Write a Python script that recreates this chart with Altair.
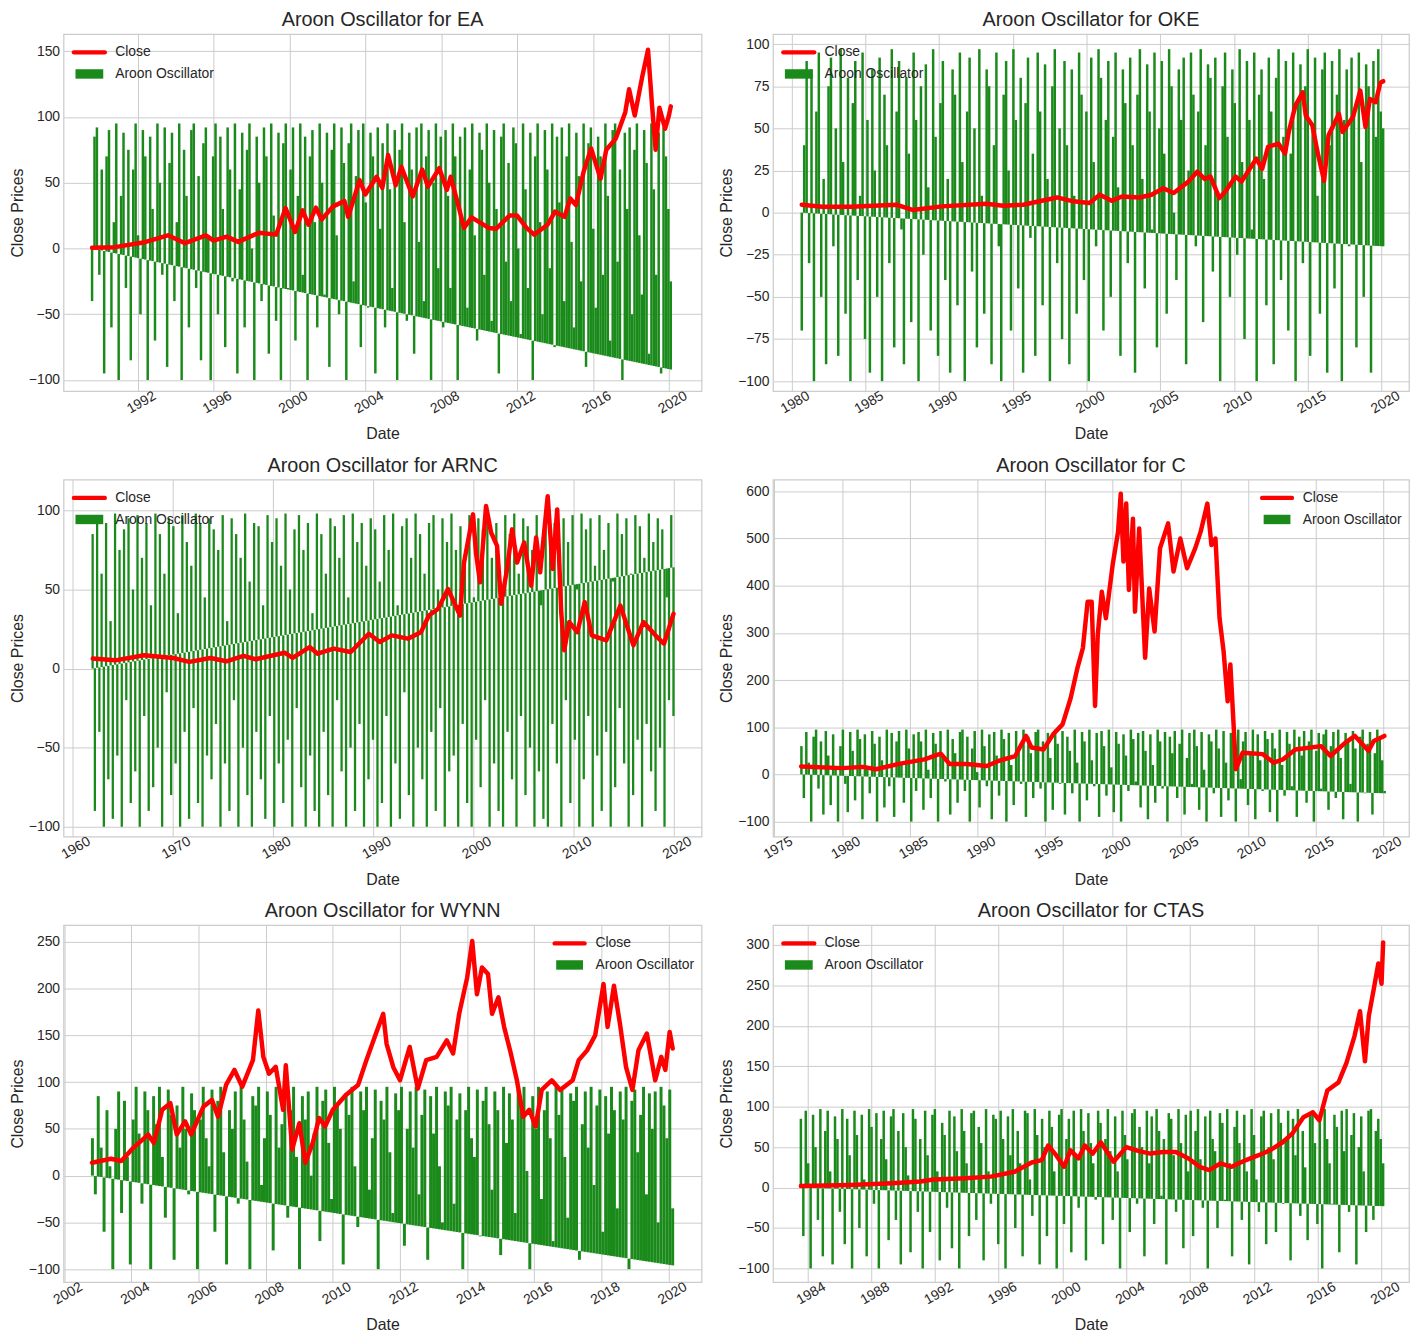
import altair as alt
import pandas as pd
import numpy as np

GREEN = "#1a8a1a"
RED = "#ff0000"
FONT = "Liberation Sans"
TXT = "#262626"

# ---------------- EA ----------------
EA_CLOSE_YEARS = [1989.6, 1990.8, 1992.3, 1993.6, 1994.5, 1995.6, 1996.0, 1996.7, 1997.3, 1998.4,
                  1999.3, 1999.8, 2000.3, 2000.7, 2001.0, 2001.4, 2001.7, 2002.3, 2002.9, 2003.1,
                  2003.7, 2004.0, 2004.6, 2004.9, 2005.2, 2005.6, 2005.9, 2006.5, 2007.0, 2007.3,
                  2007.9, 2008.3, 2008.5, 2008.9, 2009.2, 2009.6, 2010.5, 2010.9, 2011.6, 2012.0,
                  2012.5, 2012.9, 2013.6, 2014.0, 2014.5, 2014.8, 2015.1, 2015.5, 2015.9, 2016.4,
                  2016.7, 2017.2, 2017.7, 2017.9, 2018.2, 2018.6, 2018.9, 2019.1, 2019.3, 2019.5,
                  2019.8, 2020.0, 2020.1]
EA_CLOSE = [0.5, 1, 4.5, 10, 4, 10, 6, 9, 5, 12,
            10.5, 30.7, 12.6, 29, 18, 31, 22, 32, 36, 24,
            52, 41, 54.5, 46, 71, 48, 62, 39.5, 60, 47,
            61, 44.5, 54.5, 33, 15.6, 23.6, 15.6, 15, 25, 25,
            15.6, 10.5, 18, 28, 24, 38, 33, 58, 76, 53,
            75, 83.5, 103.6, 121, 101, 131, 151, 111, 75, 107,
            91, 101, 108]
EA_OSC = [-40, 85, 92, -20, 60, -95, 70, 90, -60, 20, 95, -100, 40, 88, -30, 75, -85, 60, 95,
          10, -50, 90, 70, -100, 85, 30, -70, 95, 50, -20, 92, -90, 65, 88, -40, 20, 95, -100, 75,
          40, -60, 90, 95, -30, 55, -85, 80, 92, 10, -100, 70, 95, -50, 85, 30, -75, 92, 60, -25,
          95, -95, 45, 88, -60, 75, 95, 0, -100, 85, 50, -40, 92, 70, -80, 95, 25, -55, 88, -100,
          80, 95, -30,
          60, 92, -70, 40, 95, -20, 85, -100, 70, 90, 20, -60, 95, 50, -35, 88, -90, 75, 95, 10,
          -50, 92, 65, -100, 80, 95, -25, 55, 90, -75, 95, 35, -45, 88, 70, -95, 92, 15, 80, -60,
          95, 45, -30, 90, -100, 75, 95, 20, -55, 88, 60, -80, 92, 5, 95, -40, 70, 90, -100, 50,
          95, -15, 85,
          -60, 90, 40, -30, 95, 70, -100, 85, 20, 92, -45, 60, 95, 10, -70, 88, 75, -20, 95, 50,
          -55, 90, 30, -95, 85, 95, -10, 65, -40, 92, 80, 0, -65, 95, 45, -30, 88, -100, 70, 95,
          20, -50, 90, 60, -15, 95, -75, 85, 35, 92, -40, 70, 95, 5, -60, 88, 55, -25, 95, -90,
          80, 92, 15, -45, 85, 70, -20, 95, 40, -70, 90, 95, -10, 60, -100, 88, 30, 92, -50, 75,
          95, 10, -35, 90, 65, -80, 95, 45, -20, 88, -95, 92, 70, 30, -25]
EA_OSC_SPAN = [1989.6, 2020.1]
EA_BASE = [0, -92]
EA_XDOM = [1988.1, 2021.72]
EA_YDOM = [-108.5, 163]
EA_XTICKS = [1992, 1996, 2000, 2004, 2008, 2012, 2016, 2020]
EA_YTICKS = [-100, -50, 0, 50, 100, 150]

# ---------------- OKE ----------------
OKE_CLOSE_YEARS = [1980.7, 1982.1, 1984.0, 1987.1, 1988.2, 1990.2, 1993.2, 1994.35, 1995.7, 1998.0,
                   1999.1, 2000.2, 2000.9, 2001.7, 2002.4, 2003.6, 2004.4, 2005.2, 2005.9, 2006.9,
                   2007.5, 2008.0, 2008.4, 2009.0, 2009.4, 2010.1, 2010.5, 2011.5, 2011.9, 2012.3,
                   2013.0, 2013.45, 2013.7, 2014.15, 2014.65, 2014.85, 2015.3, 2015.7, 2016.1, 2016.4,
                   2017.1, 2017.35, 2018.05, 2018.55, 2018.9, 2019.2, 2019.6, 2019.9, 2020.1]
OKE_CLOSE = [4.7, 3.5, 3.5, 4.7, 1.6, 3.7, 5.3, 4.1, 4.7, 9,
             6.7, 5.7, 10.6, 7, 9.6, 9, 10.6, 14.5, 11.6, 18.4,
             24.3, 20, 21.4, 8.6, 12.5, 21.4, 18.4, 32, 26, 39,
             41, 35, 47.8, 63.5, 71.4, 57.6, 51.8, 34, 18.8, 45.9,
             58.6, 47.8, 56.7, 72.4, 50.8, 67.5, 65.5, 77, 78]
OKE_OSC = [-70, 40, 90, -30, 85, -100, 60, 95, -50, 20, -90, 75, 92, -20, 50, -85, 97, 30, -60, 80,
           -100, 65, 90, -40, 10, 95, -75, 55, -95, 85, 25, -50, 92, -100, 70, 40, -30, 97, -80, 60,
           90, -10, -90, 80, 35, -65, 95, 55, -100, 75, -25, 88, 15, -70, 97, 45, -85, 65, 90, -40,
           20, -95, 85, 70, -55, 95, 30, -100, 60, 92, -35, 50, -80, 97, 10, -60, 85, 75, -90, 40,
           95, -20, -100, 70, 90, 25, -70, 97, 55, -45, 80, -95, 65, 92, -15, 35, -85, 95, 60, -55,
           88, 20, -100, 75, 97, -30, 50, -75, 90, 40, -90, 85, 10, -60, 95, 70, -40, 60, -100, 92,
           30, -20, 97, 80, -70, 55, 90, -50, 45, 95, 15, -85, 85, 65, -30, 92, 40, -95, 70, 97,
           20, -45, 88, 60, -10, 95, -80, 50, 90, 35, -60, 97, 75, 0, -40, 85, 55, 92, -90, 25,
           95, 70, -20, 60, 97, -65, 40, 88, 80, -35, 92, 10, -100, 75, 95, 45, -50, 85, 65, -25,
           97, 30, -75, 90, 55, -10, 95, -100, 70, 85, 20, -55, 92, 60, -90, 80, 97, -40, 45, 90,
           -70, 35, 95, -100, 65, 88, -30, 75, 97, -85, 50, 92, 10, -60, 85, 95, -95, 40, 90, -45,
           70, 97, -100, 55, 85, -20, 92, 60, -80, 95, 30, -50, 88, 75, -95, 90, 45, 97, 60, 50]
OKE_OSC_SPAN = [1980.7, 2020.1]
OKE_BASE = [0, -20]
OKE_XDOM = [1978.75, 2021.85]
OKE_YDOM = [-106, 106]
OKE_XTICKS = [1980, 1985, 1990, 1995, 2000, 2005, 2010, 2015, 2020]
OKE_YTICKS = [-100, -75, -50, -25, 0, 25, 50, 75, 100]

# ---------------- ARNC ----------------
ARNC_CLOSE_YEARS = [1962.06, 1964.3, 1967.2, 1970.1, 1971.7, 1973.8, 1975.4, 1977.1, 1978.3, 1981.2,
                    1982.0, 1983.7, 1984.5, 1986.1, 1987.8, 1989.6, 1990.7, 1991.9, 1993.5, 1994.8,
                    1995.6, 1996.5, 1997.5, 1998.1, 1998.7, 1999.1, 2000.0, 2000.3, 2000.7, 2001.3,
                    2001.8, 2002.4, 2002.8, 2003.4, 2003.9, 2004.4, 2005.1, 2005.8, 2006.3, 2006.7,
                    2007.45, 2007.95, 2008.4, 2008.8, 2009.1, 2009.6, 2010.4, 2011.15, 2011.85, 2013.3,
                    2014.7, 2016.0, 2017.0, 2018.2, 2019.05, 2020.0]
ARNC_CLOSE = [6.3, 5.2, 8.4, 6.7, 4.2, 6.7, 4.6, 8, 5.9, 10,
              6.7, 13.6, 9.4, 12.6, 10.5, 22, 16.8, 21, 18.9, 23,
              33.5, 37.7, 50.3, 42, 33.5, 67, 97.5, 73, 54.5, 102.7,
              86, 77.6, 41, 63, 88, 67, 79.7, 52.4, 82.8, 60.8,
              109, 63, 100.6, 35.6, 11.5, 29.4, 23, 42, 21, 17.8,
              39.8, 14.7, 29.4, 21, 15.7, 34.6]
ARNC_OSC = [85, -90, 95, -40, 60, -100, 92, -70, 30, -95, 98, -55, 75, -100, 88, -20, 95, -85, 50, -65,
            97, -100, 70, -30, 92, -90, 40, -75, 98, -50, 85, -100, 60, -15, 95, -80, 90, -60, 35, -100,
            97, -40, 80, -95, 65, -25, 98, -85, 92, -100, 45, -55, 95, -70, 88, -35, 75, -100, 97, -60,
            30, -90, 95, -20, 85, -100, 70, -50, 98, -80, 55, -100, 92, -40, 90, -70, 40, -95, 97, -30,
            80, -100, 95, -60, 65, -85, 98, -45, 50, -100, 88, -25, 97, -75, 75, -100, 92, -55, 35, -90,
            98, -100, 85, -40, 60, -80, 95, -100, 90, -20, 70, -65, 97, -100, 45, -50, 98, -90, 80, -35,
            92, -100, 65, -70, 95, -45, 88, -100, 55, -85, 97, -30, 75, -100, 98, -60, 40, -95, 90, -15,
            95, -80, 70, -100, 98, -50, 85, -70, 60, -100, 92, -40, 97, -90, 50, -25, 95, -100, 80, -65,
            98, -55, 75, -100, 90, -35, 65, -85, 97, -100, 45, -45, 95, -75, 88, -20, 98, -100, 70, -60,
            92, -90, 55, -100, 97, -40, 85, -70, 98, -100, 60, -30, 95, -80, 90, -50, 75, -100, 97, -65,
            40, -95, 98, -100, 85, -35, 92, -60, 70, -100, 95, -20, 80, -85, 97, -45, 50, -100, 98, -70,
            88, -30, 95, -100, 65, -55, 97, -90, 75, -40, 92, -100, 55, -75, 98, -25, 85, -60, 95, -100,
            60, -80, 97, -45, 90, -100, 70, -35, 98, -65, 80, -90, 95, -50, 88, -100, 45, -20, 97, -30]
ARNC_OSC_SPAN = [1962.05, 2020.0]
ARNC_BASE = [0, 64]
ARNC_XDOM = [1959.15, 2022.8]
ARNC_YDOM = [-106.3, 119.5]
ARNC_XTICKS = [1960, 1970, 1980, 1990, 2000, 2010, 2020]
ARNC_YTICKS = [-100, -50, 0, 50, 100]

# ---------------- C ----------------
C_CLOSE_YEARS = [1976.98, 1980.0, 1981.55, 1982.5, 1984.3, 1986.1, 1987.3, 1987.95, 1989.2, 1990.7,
                 1991.6, 1992.8, 1993.6, 1994.0, 1994.9, 1995.6, 1996.3, 1996.9, 1997.4, 1997.8,
                 1998.15, 1998.45, 1998.7, 1998.9, 1999.2, 1999.5, 2000.0, 2000.4, 2000.6, 2000.8,
                 2001.0, 2001.2, 2001.5, 2001.65, 2001.96, 2002.4, 2002.7, 2003.1, 2003.5, 2004.1,
                 2004.5, 2005.0, 2005.5, 2006.1, 2006.5, 2007.0, 2007.3, 2007.6, 2007.9, 2008.2,
                 2008.5, 2008.7, 2009.0, 2009.1, 2009.6, 2011.1, 2011.9, 2012.6, 2013.5, 2015.4,
                 2016.1, 2017.2, 2017.9, 2018.9, 2019.3, 2020.08]
C_CLOSE = [16.9, 13.4, 16, 11, 23, 32, 44, 22, 22, 18,
           29, 39, 81.6, 57, 53, 85, 106, 162, 226, 268,
           366, 366, 145, 296, 387, 331, 444, 514, 595, 451,
           574, 391, 542, 345, 521, 247, 394, 303, 479, 532,
           430, 500, 437, 479, 514, 574, 486, 500, 331, 261,
           155, 233, 71, 11, 46, 43, 25, 32, 53, 60,
           39, 67.5, 81.6, 50, 71, 81.6]
C_OSC = [60, -50, 90, 25, -100, 80, 95, -30, 70, -85, 92, 40, -65, 85, 10, -100, 60, 95, -20, -80,
         90, 50, -55, 95, 75, -95, 85, 15, -40, 92, 65, -100, 80, 30, -70, 95, -25, 88, -90, 70,
         92, 20, -60, 95, 55, -100, 85, -35, 90, 70, -75, 95, 10, -50, 88, 65, -100, 92, 35, -15,
         95, -85, 75, 45, -60, 90, 95, -35, 80, -100, 55, 92, 5, -70, 95, 60, -25, 85, -95, 90,
         40, -45, 95, 75, -100, 88, 20, -65, 92, 55, -20, 95, -90, 80, 45, -50, 90, 95, -30, 70,
         -100, 88, 35, -75, 95, 65, -20, 92, -85, 80, 50, -40, 95, 25, -100, 90, 70, -55, 95, 30,
         -25, 88, -90, 92, 60, -45, 95, 15, -80, 90, 65, -100, 85, 40, -35, 95, 75, -15, 88, -70,
         92, 50, -95, 85, 20, -60, 95, 70, -30, 90, -100, 80, 45, 92, -50, 65, 95, -85, 35, 88,
         -20, 95, 60, -75, 90, 10, -100, 85, 70, -40, 95, 55, -90, 92, 25, -55, 88, 80, -100, 95,
         -10, 70, 90, -65, 45, 95, -95, 85, 30, -35, 92, 75, -80, 88, 55, -100, 95, 20, -45, 90,
         65, -25, 95, -90, 80, 40, 92, -60, 70, 95, -100, 50, 88, -30, 85, 95, -75, 60, 90, -50,
         95, 35, -95, 88, 70, -20, 92, 55, -100, 80, 95, -40, 65, 90, -85, 45, 95, 75, 30, -35]
C_OSC_SPAN = [1977.0, 2020.1]
C_BASE = [0, -40]
C_XDOM = [1974.9, 2021.9]
C_YDOM = [-132, 625]
C_XTICKS = [1975, 1980, 1985, 1990, 1995, 2000, 2005, 2010, 2015, 2020]
C_YTICKS = [-100, 0, 100, 200, 300, 400, 500, 600]

# ---------------- WYNN ----------------
WYNN_CLOSE_YEARS = [2002.83, 2003.39, 2003.7, 2004.06, 2004.5, 2004.67, 2004.92, 2005.16, 2005.35, 2005.6,
                    2005.78, 2006.15, 2006.4, 2006.58, 2006.82, 2007.07, 2007.3, 2007.62, 2007.78, 2007.93,
                    2008.1, 2008.3, 2008.52, 2008.6, 2008.79, 2009.0, 2009.18, 2009.4, 2009.59, 2009.77,
                    2010.0, 2010.38, 2010.75, 2011.0, 2011.3, 2011.5, 2011.6, 2011.8, 2012.0, 2012.29,
                    2012.53, 2012.78, 2013.09, 2013.39, 2013.58, 2013.76, 2014.0, 2014.15, 2014.29, 2014.44,
                    2014.62, 2014.74, 2014.93, 2015.1, 2015.3, 2015.48, 2015.67, 2015.85, 2016.04, 2016.22,
                    2016.52, 2016.77, 2017.14, 2017.32, 2017.57, 2017.81, 2018.06, 2018.18, 2018.37, 2018.55,
                    2018.73, 2018.92, 2019.1, 2019.35, 2019.6, 2019.78, 2019.9, 2020.03, 2020.12]
WYNN_CLOSE = [13.8, 18, 15.6, 29.7, 43.9, 35, 70.4, 77.5, 44, 58,
              44, 74, 81, 63, 97, 113, 95, 123.5, 176.6, 127,
              109, 116.4, 70.4, 118, 28, 56, 13.8, 35, 61.6, 52.7,
              70.4, 86, 97, 123.5, 153.6, 173, 141, 116, 102, 137.6,
              93, 123.5, 127, 144.7, 130.6, 173, 212, 251, 194, 222.6,
              215.5, 173, 190.7, 159, 130.6, 102, 63, 70.4, 52.7, 91.6,
              102, 91.6, 102, 123.5, 134, 150, 205, 159, 203, 162,
              116, 91.6, 134, 152, 102, 127, 113, 153.6, 136]
WYNN_OSC = [40, -20, 85, 30, -60, 70, 10, -100, 50, 90, -40, 80, 20, -95, 60, 95, 45, -30, 90, 70,
            -100, 85, 55, 95, 20, -45, 92, 65, -90, 75, 30, 95, 50, -20, 88, 70, -100, 60, 95, 40,
            10, 92, -60, 80, 95, 25, -95, 70, 50, 90, -30, 95, 60, 15, -100, 85, 75, 95, -10, 40,
            90, 65, -80, 95, 30, 55, 92, -45, 70, 95, 20, -100, 85, 60, 90, 0, 45, 95, -70, 80,
            92, 35, -25, 95, 75, 50, -95, 88, 65, 95, 10, -55, 90, 70, 95, -15, 40, 92, -100, 80,
            60, 95, 25, -40, 88, 70, 95, -75, 50, 90, 30, 95, -20, 65, 92, -90, 85, 45, 95, 10,
            -50, 90, 75, 95, -30, 60, 88, -100, 70, 95, 40, 20, 92, -65, 80, 95, 55, -15, 90, 70,
            -85, 95, 35, 88, 60, -40, 92, 75, 95, 5, -100, 85, 50, 95, -25, 70, 90, 40, -70, 95,
            65, 92, 20, -45, 88, 80, 95, -90, 55, 90, 30, 95, -10, 75, 92, -60, 85, 45, 95, 70,
            -35, 90, 60, 95, -100, 80, 92, 25, 65, 95, -20, 88, 50, 90, -50, 95, 75, 40, 92, -35]
WYNN_OSC_SPAN = [2002.84, 2020.12]
WYNN_BASE = [0, -96]
WYNN_XDOM = [2001.98, 2020.98]
WYNN_YDOM = [-114, 268]
WYNN_XTICKS = [2002, 2004, 2006, 2008, 2010, 2012, 2014, 2016, 2018, 2020]
WYNN_YTICKS = [-100, -50, 0, 50, 100, 150, 200, 250]

# ---------------- CTAS ----------------
CTAS_CLOSE_YEARS = [1983.6, 1986.7, 1989.3, 1991.1, 1991.9, 1993.9, 1995.5, 1997.0, 1998.06, 1998.7,
                    1999.1, 1999.6, 2000.1, 2000.5, 2001.0, 2001.4, 2001.9, 2002.4, 2002.8, 2003.2,
                    2004.0, 2004.8, 2005.5, 2006.3, 2007.1, 2007.9, 2008.6, 2009.2, 2009.9, 2010.6,
                    2011.5, 2012.3, 2013.0, 2013.8, 2014.4, 2015.1, 2015.7, 2016.1, 2016.6, 2017.3,
                    2017.8, 2018.3, 2018.65, 2018.96, 2019.2, 2019.5, 2019.8, 2020.0, 2020.1]
CTAS_CLOSE = [2, 3.3, 5.3, 7.4, 10, 11.4, 13.5, 19.6, 31, 34,
              52, 40, 25.7, 46, 36, 52, 42, 56, 44, 32,
              50, 45, 42, 44, 44, 36, 25.7, 21.6, 30, 25.7,
              34, 40, 46, 56, 66.6, 87, 93, 83, 120, 130,
              154, 187, 218, 156, 212, 244, 277, 252, 303]
CTAS_OSC = [85, -60, 95, 30, -100, 90, 50, -40, 97, -85, 70, 95, 20, -95, 88, 60, -30, 97, -70, 85,
            40, -100, 95, 65, -50, 90, 10, -85, 97, 75, -20, 92, -100, 60, 95, 35, -65, 88, 97, -40,
            70, -95, 92, 50, 15, -80, 97, 85, -30, 60, -100, 95, 40, -55, 90, 97, 20, -90, 80, 65,
            -25, 95, -75, 88, 45, -100, 97, 70, 30, -60, 92, 95, -40, 75, 55, -90, 97, 20, -20, 90,
            85, -70, 95, 60, -100, 88, 40, 97, -50, 70, 30, -85, 95, 92, 10, -35, 97, 65, -95, 85,
            50, -60, 95, 75, 20, -100, 90, 97, -45, 60, 85, -80, 95, 40, -25, 97, 70, -90, 92, 55,
            30, -15, 95, 80, -70, 60, 97, 45, -40, 88, 20, -100, 95, 65, 35, -55, 92, 97, -20, 75,
            50, -85, 95, 30, 88, -45, 97, 70, -10, 60, -95, 92, 85, 40, -30, 97, 55, -75, 90, 20,
            95, -60, 70, 97, 35, -25, 88, -100, 95, 60, 45, -50, 92, 80, -15, 97, 30, -85, 75, 95,
            55, -40, 90, 20, -95, 97, 65, 10, -30, 88, 95, -70, 50, 92, 35, -55, 97, 80, -20, 60,
            95, -90, 85, 40, 97, -35, 70, 25, -65, 92, 95, 55, -45, 88, -100, 97, 60, 30, -20, 90,
            75, -80, 95, 45, 97, -30, 65, 92, -95, 50, 88, 20, -55, 95, 97, -40, 70, 85, 60, 30]
CTAS_OSC_SPAN = [1983.6, 2020.1]
CTAS_BASE = [0, -23]
CTAS_XDOM = [1981.85, 2021.72]
CTAS_YDOM = [-117, 324.5]
CTAS_XTICKS = [1984, 1988, 1992, 1996, 2000, 2004, 2008, 2012, 2016, 2020]
CTAS_YTICKS = [-100, -50, 0, 50, 100, 150, 200, 250, 300]


def to_ts(y):
    yi = int(np.floor(y))
    return pd.Timestamp(year=yi, month=1, day=1) + pd.Timedelta(days=(y - yi) * 365.25)


def to_iso(y):
    return to_ts(y).strftime("%Y-%m-%dT%H:%M:%S")


def to_dt(y):
    t = to_ts(y)
    return alt.DateTime(year=t.year, month=t.month, date=t.day, hours=t.hour)


def legend_layers(right, width):
    one = pd.DataFrame({"k": [0]})
    if right:
        lx0, lx1, tx = width - 148, width - 118, width - 107
    else:
        lx0, lx1, tx = 10.5, 41.5, 52
    line = alt.Chart(one).mark_rule(color=RED, strokeWidth=4.5, strokeCap="round").encode(
        x=alt.value(lx0), x2=alt.value(lx1), y=alt.value(18.5))
    rect = alt.Chart(one).mark_rect(color=GREEN).encode(
        x=alt.value(lx0 + 1.5), x2=alt.value(lx1 - 1.5), y=alt.value(35.5), y2=alt.value(45))
    t1 = alt.Chart(one).mark_text(align="left", baseline="middle", fontSize=14, color=TXT, font=FONT).encode(
        x=alt.value(tx), y=alt.value(18.5), text=alt.value("Close"))
    t2 = alt.Chart(one).mark_text(align="left", baseline="middle", fontSize=14, color=TXT, font=FONT).encode(
        x=alt.value(tx), y=alt.value(40.5), text=alt.value("Aroon Oscillator"))
    return [line, rect, t1, t2]


def panel(name, cy, cv, osc, span, base, xdom, ydom, xticks, yticks, width, right):
    n = len(osc)
    oy = np.linspace(span[0], span[1], n)
    bl = np.linspace(base[0], base[1], n)
    osc_df = pd.DataFrame({"date": [to_iso(v) for v in oy], "value": osc, "base": bl})
    m = min(len(cy), len(cv))
    close_df = pd.DataFrame({"date": [to_iso(v) for v in cy[:m]], "close": cv[:m]})
    # column width so that neighbouring columns touch
    col_w = width * (span[1] - span[0]) / (xdom[1] - xdom[0]) / (n - 1) * 1.02
    xs = alt.Scale(domain=[to_dt(xdom[0]), to_dt(xdom[1])], nice=False)
    ys = alt.Scale(domain=ydom, nice=False, zero=False)
    xax = alt.Axis(values=[alt.DateTime(year=v, month=1, date=1) for v in xticks], format="%Y",
                   labelAngle=-30, labelAlign="center", labelBaseline="top")
    yax = alt.Axis(values=yticks)
    bars = alt.Chart(osc_df).mark_rule(color=GREEN, strokeWidth=col_w, strokeCap="butt").encode(
        x=alt.X("date:T", title="Date", scale=xs, axis=xax),
        y=alt.Y("value:Q", title="Close Prices", scale=ys, axis=yax),
        y2="base:Q")
    line = alt.Chart(close_df).mark_line(color=RED, strokeWidth=4.5, strokeJoin="round", strokeCap="round").encode(
        x=alt.X("date:T", title="Date", scale=xs, axis=xax),
        y=alt.Y("close:Q", title="Close Prices", scale=ys, axis=yax))
    return alt.layer(bars, line, *legend_layers(right, width)).properties(
        width=width, height=360,
        title=alt.TitleParams(f"Aroon Oscillator for {name}", frame="group", anchor="middle"))


W_L, W_R = 643, 641
p_ea = panel("EA", EA_CLOSE_YEARS, EA_CLOSE, EA_OSC, EA_OSC_SPAN, EA_BASE, EA_XDOM, EA_YDOM, EA_XTICKS, EA_YTICKS, W_L, False)
p_oke = panel("OKE", OKE_CLOSE_YEARS, OKE_CLOSE, OKE_OSC, OKE_OSC_SPAN, OKE_BASE, OKE_XDOM, OKE_YDOM, OKE_XTICKS, OKE_YTICKS, W_R, False)
p_arnc = panel("ARNC", ARNC_CLOSE_YEARS, ARNC_CLOSE, ARNC_OSC, ARNC_OSC_SPAN, ARNC_BASE, ARNC_XDOM, ARNC_YDOM, ARNC_XTICKS, ARNC_YTICKS, W_L, False)
p_c = panel("C", C_CLOSE_YEARS, C_CLOSE, C_OSC, C_OSC_SPAN, C_BASE, C_XDOM, C_YDOM, C_XTICKS, C_YTICKS, W_R, True)
p_wynn = panel("WYNN", WYNN_CLOSE_YEARS, WYNN_CLOSE, WYNN_OSC, WYNN_OSC_SPAN, WYNN_BASE, WYNN_XDOM, WYNN_YDOM, WYNN_XTICKS, WYNN_YTICKS, W_L, True)
p_ctas = panel("CTAS", CTAS_CLOSE_YEARS, CTAS_CLOSE, CTAS_OSC, CTAS_OSC_SPAN, CTAS_BASE, CTAS_XDOM, CTAS_YDOM, CTAS_XTICKS, CTAS_YTICKS, W_R, False)

chart = alt.vconcat(
    alt.hconcat(p_ea, p_oke, spacing=15),
    alt.hconcat(p_arnc, p_c, spacing=15),
    alt.hconcat(p_wynn, p_ctas, spacing=15),
    spacing=12,
).properties(padding={"left": 0, "top": -4, "right": 0, "bottom": 0}).configure(font=FONT).configure_view(
    stroke="#cccccc", strokeWidth=1.25
).configure_axis(
    grid=True, gridColor="#cccccc", gridWidth=1, domain=False, ticks=False,
    labelFontSize=14, labelColor=TXT, labelFont=FONT,
    titleFontSize=16, titleFontWeight="normal", titleColor=TXT, titleFont=FONT,
).configure_axisX(
    labelPadding=5, titlePadding=10, labelOverlap=False, labelFlush=False
).configure_axisY(
    labelPadding=4, titlePadding=3
).configure_title(
    fontSize=20, fontWeight="normal", color=TXT, font=FONT, offset=0
)

chart.save("out.html", embed_options={"renderer": "svg", "actions": False})
